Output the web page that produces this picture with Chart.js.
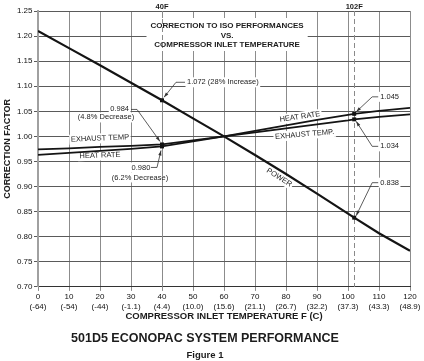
<!DOCTYPE html>
<html>
<head>
<meta charset="utf-8">
<script src="https://cdn.jsdelivr.net/npm/chart.js@4.4.0/dist/chart.umd.min.js"></script>
<style>
  html, body { margin: 0; padding: 0; background: #fff; }
  #wrap { width: 424px; height: 361px; }
</style>
</head>
<body>
<div id="wrap"><canvas id="perf"></canvas></div>
<script>
// compressor inlet temperature, deg F
const tempF = [0, 10, 20, 30, 40, 50, 60, 70, 80, 90, 100, 102, 110, 120];
const power = [1.210, 1.176, 1.142, 1.107, 1.072, 1.036, 1.000, 0.963, 0.925, 0.886, 0.846, 0.838, 0.807, 0.772];
const heatRate = [0.963, 0.967, 0.971, 0.975, 0.980, 0.990, 1.000, 1.011, 1.022, 1.033, 1.043, 1.045, 1.051, 1.057];
const exhaustTemp = [0.974, 0.976, 0.979, 0.981, 0.984, 0.992, 1.000, 1.008, 1.016, 1.024, 1.032, 1.034, 1.039, 1.044];

// axis tick labels
const tickF = [0, 10, 20, 30, 40, 50, 60, 70, 80, 90, 100, 110, 120];
const tickC = ['(-64)', '(-54)', '(-44)', '(-1.1)', '(4.4)', '(10.0)', '(15.6)', '(21.1)', '(26.7)', '(32.2)', '(37.3)', '(43.3)', '(48.9)'];

// marked design points
const markTemps = [40, 102];
const markLabels = ['40F', '102F'];
const calloutTemp = [40, 40, 40, 102, 102, 102];
const calloutSeries = ['power', 'exhaust', 'heat', 'heat', 'exhaust', 'power'];
const calloutText = [
  ['1.072 (28% Increase)'],
  ['0.984', '(4.8% Decrease)'],
  ['0.980', '(6.2% Decrease)'],
  ['1.045'],
  ['1.034'],
  ['0.838']
];
const titleLines = ['CORRECTION TO ISO PERFORMANCES', 'VS.', 'COMPRESSOR INLET TEMPERATURE'];

const seriesByName = { power: power, heat: heatRate, exhaust: exhaustTemp };
const pts = ys => tempF.map((t, i) => ({ x: t, y: ys[i] }));
const calloutValue = i => seriesByName[calloutSeries[i]][tempF.indexOf(calloutTemp[i])];

const FONT = '"Liberation Sans", Arial, Helvetica, sans-serif';
const INK = '#1c1c1c';

// where the notes sit, relative to the point they describe
const calloutLayout = [
  { lines: [[25, -18, 'left']], leader: [[23, -18], [14, -18], [2, -3]] },
  { lines: [[-33, -35, 'right'], [-56, -27, 'center']], leader: [[-31, -35], [-25, -35], [-2, -3]] },
  { lines: [[-21, 21, 'center'], [-22, 31, 'center']], leader: [[-11, 21], [-5, 21], [-1, 4]] },
  { lines: [[26, -17, 'left']], leader: [[24, -17], [18, -17], [2, -2]] },
  { lines: [[26, 27, 'left']], leader: [[24, 27], [18, 27], [2, 2]] },
  { lines: [[26, -35, 'left']], leader: [[24, -35], [18, -35], [2, -2]] }
];
const lineNotes = [
  { text: 'EXHAUST TEMP', t: 20, v: 0.996, rot: -2.5 },
  { text: 'HEAT RATE', t: 20, v: 0.962, rot: -2 },
  { text: 'HEAT RATE', t: 84.5, v: 1.039, rot: -8 },
  { text: 'EXHAUST TEMP.', t: 86, v: 1.004, rot: -5 },
  { text: 'POWER', t: 77.8, v: 0.918, rot: 32 }
];

function collectNotes(chart) {
  const { chartArea: a, scales: { x, y } } = chart;
  const notes = [];
  const small = '7.5px ' + FONT;
  lineNotes.forEach(n => {
    notes.push({ text: n.text, px: x.getPixelForValue(n.t), py: y.getPixelForValue(n.v), rot: n.rot, align: 'center', font: small });
  });
  calloutText.forEach((lines, i) => {
    const px = x.getPixelForValue(calloutTemp[i]);
    const py = y.getPixelForValue(calloutValue(i));
    lines.forEach((txt, j) => {
      const [dx, dy, align] = calloutLayout[i].lines[j];
      notes.push({ text: txt, px: px + dx, py: py + dy, rot: 0, align: align, font: small });
    });
  });
  const cx = x.getPixelForValue(61);
  titleLines.forEach((txt, i) => {
    notes.push({ text: txt, px: cx, py: a.top + 15 + 9.5 * i, rot: 0, align: 'center', font: 'bold 8px ' + FONT });
  });
  return notes;
}

const notesPlugin = {
  id: 'econopacNotes',
  beforeDatasetsDraw(chart) {
    const { ctx, chartArea: a, scales: { x } } = chart;
    ctx.save();
    // title block knocks out the grid
    ctx.font = 'bold 8px ' + FONT;
    const tw = Math.max(...titleLines.map(t => ctx.measureText(t).width));
    const cx = x.getPixelForValue(61);
    ctx.fillStyle = '#fff';
    ctx.fillRect(cx - tw / 2 - 4, a.top + 7, tw + 8, 33);

    // white patches behind every note
    collectNotes(chart).forEach(n => {
      ctx.save();
      ctx.font = n.font;
      ctx.translate(n.px, n.py);
      ctx.rotate(n.rot * Math.PI / 180);
      const w = ctx.measureText(n.text).width;
      const x0 = n.align === 'left' ? 0 : n.align === 'right' ? -w : -w / 2;
      ctx.fillRect(x0 - 1.5, -5, w + 3, 10);
      ctx.restore();
    });

    // dashed lines at 40F and 102F
    ctx.strokeStyle = '#8a8a8a';
    ctx.lineWidth = 1;
    ctx.setLineDash([5, 3]);
    markTemps.forEach(t => {
      const px = Math.round(x.getPixelForValue(t)) + 0.5;
      ctx.beginPath();
      ctx.moveTo(px, a.top);
      ctx.lineTo(px, a.bottom);
      ctx.stroke();
    });
    ctx.setLineDash([]);
    ctx.fillStyle = INK;
    ctx.font = 'bold 7.5px ' + FONT;
    ctx.textAlign = 'center';
    ctx.textBaseline = 'middle';
    markTemps.forEach((t, i) => ctx.fillText(markLabels[i], x.getPixelForValue(t), a.top - 4));
    ctx.restore();
  },
  afterDatasetsDraw(chart) {
    const { ctx, scales: { x, y } } = chart;
    ctx.save();
    ctx.fillStyle = INK;
    ctx.textBaseline = 'middle';
    collectNotes(chart).forEach(n => {
      ctx.save();
      ctx.font = n.font;
      ctx.textAlign = n.align;
      ctx.translate(n.px, n.py);
      ctx.rotate(n.rot * Math.PI / 180);
      ctx.fillText(n.text, 0, 0);
      ctx.restore();
    });

    // leaders with arrow heads
    ctx.strokeStyle = '#333';
    ctx.lineWidth = 0.8;
    calloutTemp.forEach((t, i) => {
      const px = x.getPixelForValue(t);
      const py = y.getPixelForValue(calloutValue(i));
      const p = calloutLayout[i].leader.map(([dx, dy]) => [px + dx, py + dy]);
      ctx.beginPath();
      ctx.moveTo(p[0][0], p[0][1]);
      p.slice(1).forEach(q => ctx.lineTo(q[0], q[1]));
      ctx.stroke();
      const [ax, ay] = p[p.length - 1];
      const [bx, by] = p[p.length - 2];
      const ang = Math.atan2(ay - by, ax - bx);
      ctx.beginPath();
      ctx.moveTo(ax, ay);
      ctx.lineTo(ax - 5 * Math.cos(ang) + 1.6 * Math.sin(ang), ay - 5 * Math.sin(ang) - 1.6 * Math.cos(ang));
      ctx.lineTo(ax - 5 * Math.cos(ang) - 1.6 * Math.sin(ang), ay - 5 * Math.sin(ang) + 1.6 * Math.cos(ang));
      ctx.closePath();
      ctx.fillStyle = '#333';
      ctx.fill();
    });
    ctx.restore();
  }
};

const ctx = document.getElementById('perf').getContext('2d');
const perfChart = new Chart(ctx, {
  type: 'line',
  data: {
    datasets: [
      { label: 'POWER', data: pts(power), borderColor: '#141414', borderWidth: 2.2, pointRadius: 0, tension: 0 },
      { label: 'HEAT RATE', data: pts(heatRate), borderColor: '#141414', borderWidth: 1.8, pointRadius: 0, tension: 0 },
      { label: 'EXHAUST TEMP', data: pts(exhaustTemp), borderColor: '#141414', borderWidth: 1.8, pointRadius: 0, tension: 0 },
      {
        label: 'design points',
        data: calloutTemp.map((t, i) => ({ x: t, y: calloutValue(i) })),
        showLine: false,
        pointStyle: 'rect',
        pointRadius: 2.8,
        pointBackgroundColor: '#111',
        pointBorderWidth: 0
      }
    ]
  },
  options: {
    responsive: true,
    maintainAspectRatio: false,
    animation: false,
    layout: { padding: { top: 11, right: 14, bottom: 0, left: 0 } },
    plugins: {
      legend: { display: false },
      tooltip: { enabled: false },
      title: {
        display: true,
        position: 'bottom',
        weight: 1000,
        text: '501D5 ECONOPAC SYSTEM PERFORMANCE',
        color: INK,
        font: { family: FONT, size: 12.5, weight: 'bold', lineHeight: 1.2 },
        padding: { top: 8, bottom: 2 }
      },
      subtitle: {
        display: true,
        position: 'bottom',
        weight: 2000,
        text: 'Figure 1',
        color: INK,
        font: { family: FONT, size: 9.5, weight: 'bold', lineHeight: 1.2 },
        padding: { top: 2, bottom: 0 }
      }
    },
    scales: {
      x: {
        type: 'linear',
        min: 0,
        max: 120,
        ticks: {
          stepSize: 10,
          color: '#111',
          padding: 1,
          maxRotation: 0,
          font: { family: FONT, size: 8, lineHeight: 1.2 },
          callback: v => {
            const i = tickF.indexOf(v);
            return i < 0 ? '' : [String(tickF[i]), tickC[i]];
          }
        },
        grid: { color: '#8c8c8c', lineWidth: 1, tickLength: 4 },
        border: { color: '#333', width: 1 },
        title: {
          display: true,
          text: 'COMPRESSOR INLET TEMPERATURE F (C)',
          color: INK,
          font: { family: FONT, size: 9.5, weight: 'bold', lineHeight: 1 },
          padding: { top: 0, bottom: 1 }
        }
      },
      y: {
        min: 0.70,
        max: 1.25,
        afterFit: s => { s.width = 38; },
        ticks: {
          stepSize: 0.05,
          color: '#111',
          padding: 1.5,
          font: { family: FONT, size: 8 },
          callback: v => Number(v).toFixed(2)
        },
        grid: { color: '#5a5a5a', lineWidth: 1, tickLength: 4 },
        border: { color: '#a0a0a0', width: 2 },
        title: {
          display: true,
          text: 'CORRECTION FACTOR',
          color: INK,
          font: { family: FONT, size: 9, weight: 'bold' },
          padding: { top: 2, bottom: 0 }
        }
      }
    }
  },
  plugins: [notesPlugin]
});
</script>
</body>
</html>
